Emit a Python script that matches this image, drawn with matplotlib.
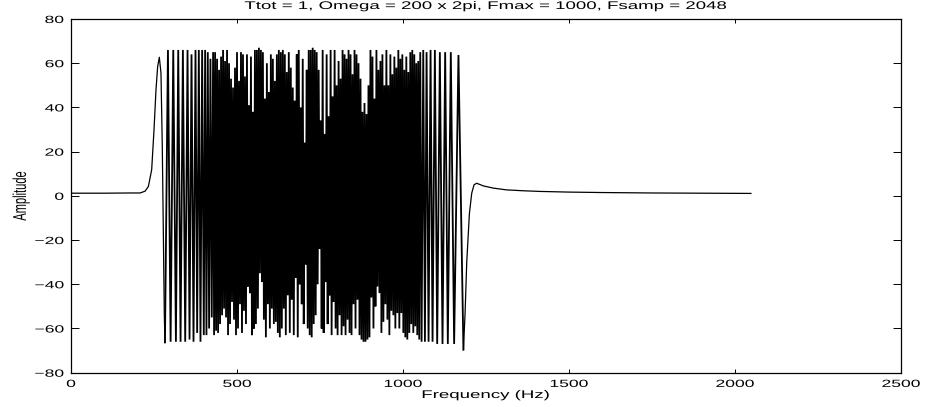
"""
Chirp spectrum: real part of the amplitude across frequency, drawn the way the
old MATLAB figure looks (ticks inside on all four sides, Helvetica-like text).
The source picture was stretched sideways, so text glyphs get widened too.
"""
import matplotlib; matplotlib.use("Agg"); import matplotlib.pyplot as plt
from matplotlib import patheffects
from matplotlib.transforms import Affine2D

plt.rcParams["font.family"] = ["Liberation Sans", "DejaVu Sans"]

TITLE = "Ttot = 1, Omega = 200 x 2pi, Fmax = 1000, Fsamp = 2048"
X_TICKS = [0, 500, 1000, 1500, 2000, 2500]
Y_TICKS = [-80, -60, -40, -20, 0, 20, 40, 60, 80]

# smooth lead-in: flat floor, first Fresnel lobe, first deep trough
lead_hz = [0, 100, 180, 208, 223, 233, 243, 250, 256, 261, 266, 271, 275, 278, 281, 283]
lead_amp = [1.2, 1.2, 1.3, 1.3, 2.1, 4.2, 11.8, 29.8, 48, 58.5, 62.7, 55.6, 22, -15, -53, -66.3]

# turning points of the oscillating band (peak / trough alternating)
osc_hz = [
    292, 300, 308, 316, 323, 330, 337, 344, 351, 357,
    363, 369, 375, 380, 385, 390, 395, 400, 404, 408,
    412, 416, 420, 424, 428,
    431, 434, 437, 440, 443, 446, 449, 452, 455, 458,
    461, 464, 467, 470, 473, 476, 479, 482, 485, 488,
    491, 494, 497, 500, 503, 506, 509, 512, 515, 518,
    521, 524, 527, 530, 533, 536, 539, 542, 545, 548,
    551, 554, 557, 560, 563, 566, 569, 572, 575, 578,
    581, 584, 587, 590, 593, 596, 599, 602, 605, 608,
    611, 614, 617, 620, 623, 626, 629, 632, 635, 638,
    641, 644, 647, 650, 653, 656, 659, 662, 665, 668,
    671, 674, 677, 680, 683, 686, 689, 692, 695, 698,
    701, 704, 707, 710, 713, 716, 719, 722, 725, 728,
    731, 734, 737, 740, 743, 746, 749, 752, 755, 758,
    761, 764, 767, 770, 773, 776, 779, 782, 785, 788,
    791, 794, 797, 800, 803, 806, 809, 812, 815, 818,
    821, 824, 827, 830, 833, 836, 839, 842, 845, 848,
    851, 854, 857, 860, 863, 866, 869, 872, 875, 878,
    881, 884, 887, 890, 893, 896, 899, 902, 905, 908,
    911, 914, 917, 920, 923, 926, 929, 932, 935, 938,
    941, 944, 947, 950, 953, 956, 959, 962, 965, 968,
    971, 974, 977, 980, 983, 986, 989, 992, 995, 998,
    1001, 1004, 1007, 1010, 1013, 1016, 1019, 1022, 1025, 1028,
    1031, 1034, 1037, 1040, 1043, 1046, 1049, 1052,
    1056, 1061, 1066, 1071, 1077, 1083, 1089, 1096, 1103, 1111,
    1119, 1127, 1135, 1144, 1154, 1167, 1182,
]
osc_amp = [
    66, -66, 66, -66, 66, -66, 66, -66, 66, -65,
    64, -66, 66, -62, 66, -66, 66, -63, 66, -63,
    65, -60, 62, -55, 65,
    -63, 65, -61, 62, -62, 57, -58, 63, -54, 66,
    -51, 61, -55, 66, -63, 60, -58, 53, -48, 49,
    -56, 58, -63, 65, -60, 52, -49, 65, -62, 64,
    -52, 54, -58, 64, -41, 41, -44, 63, -63, 38,
    -60, 66, -58, 66, -51, 67, -35, 66, -39, 65,
    -56, 44, -64, 60, -49, 47, -60, 64, -51, 62,
    -58, 52, -57, 64, -62, 66, -64, 65, -60, 66,
    -51, 64, -63, 56, -45, 65, -62, 58, -47, 49,
    -63, 43, -37, 64, -64, 66, -40, 40, -49, 62,
    -58, 24, -31, 57, -60, 66, -63, 66, -64, 67,
    -58, 66, -54, 65, -40, 57, -24, 34, -60, 66,
    -62, 28, -39, 64, -58, 36, -45, 66, -63, 45,
    -48, 66, -60, 50, -63, 61, -54, 53, -63, 66,
    -59, 64, -63, 62, -56, 66, -62, 64, -63, 55,
    -49, 66, -60, 64, -47, 60, -63, 53, -65, 38,
    -66, 42, -66, 37, -65, 50, -64, 66, -46, 63,
    -60, 44, -50, 66, -41, 57, -44, 61, -62, 64,
    -57, 50, -49, 66, -56, 50, -63, 64, -52, 55,
    -54, 63, -60, 58, -53, 66, -60, 62, -53, 64,
    -62, 57, -64, 63, -65, 56, -62, 65, -58, 66,
    -62, 64, -59, 60, -63, 61, -65, 65,
    -66, 66, -66, 65, -66, 66, -66, 66, -67, 65,
    -67, 65, -67, 65, -67, 63.7, -69.6,
]

# recovery after the last trough: small overshoot, then slow decay to the floor
tail_hz = [1187, 1192, 1200, 1207, 1214, 1222, 1242, 1272, 1312, 1362, 1413, 1500, 1600, 1750, 1900, 2048]
tail_amp = [-53, -30, -8, 1.2, 5, 5.7, 4.5, 3.5, 2.7, 2.3, 2.0, 1.7, 1.5, 1.3, 1.2, 1.1]

assert len(osc_hz) == len(osc_amp)

SX = 1.68  # sideways stretch of the source picture


class Widen(patheffects.AbstractPathEffect):
    """Widen text horizontally (display x) about its left / centre / right edge."""
    def __init__(self, sx=SX, anchor="center"):
        super().__init__()
        self.sx, self.anchor = sx, anchor

    def draw_path(self, renderer, gc, tpath, affine, rgbFace=None):
        ext = tpath.get_extents(affine)
        x0 = {"left": ext.x0, "right": ext.x1, "center": (ext.x0 + ext.x1) / 2}[self.anchor]
        widen = Affine2D().translate(-x0, 0).scale(self.sx, 1).translate(x0, 0)
        renderer.draw_path(gc, tpath, affine + widen, rgbFace)


W, H = 925, 407
fig = plt.figure(figsize=(W / 100, H / 100), dpi=100)
ax = fig.add_axes([71 / W, 1 - 372.7 / H, 830 / W, (372.7 - 19) / H])

# one series; the dense band gets a slightly heavier stroke so it fills in solid
# like the 1 Hz-sampled original, the smooth ends stay thin
ax.plot(lead_hz, lead_amp, color="black", lw=0.9)
ax.plot([lead_hz[-1]] + osc_hz, [lead_amp[-1]] + osc_amp, color="black", lw=1.3,
        solid_joinstyle="miter")
ax.plot([osc_hz[-1]] + tail_hz, [osc_amp[-1]] + tail_amp, color="black", lw=0.9)

ax.set_xlim(0, 2500); ax.set_ylim(-80, 80)
ax.set_xticks(X_TICKS); ax.set_yticks(Y_TICKS)
ax.tick_params(direction="in", top=True, right=True, width=0.7, labelsize=7.5, colors="black")
ax.tick_params(axis="x", length=3.1, pad=4.5)
ax.tick_params(axis="y", length=6.0, pad=5.2)
for s in ax.spines.values():
    s.set_linewidth(0.9)

ax.set_title(TITLE, fontsize=8, pad=7.2)
ax.set_xlabel("Frequency (Hz)", fontsize=8)
ax.set_ylabel("Amplitude", fontsize=8)
ax.xaxis.label.set_va("baseline"); ax.xaxis.set_label_coords(0.5, (372.7 - 398) / 353.7)
ax.yaxis.label.set_va("center"); ax.yaxis.set_label_coords((21 - 71) / 830, 0.5)

for t in [ax.title, ax.xaxis.label, ax.yaxis.label] + ax.get_xticklabels():
    t.set_path_effects([Widen(anchor="center")])
for t in ax.get_yticklabels():
    t.set_path_effects([Widen(anchor="right")])

fig.savefig("out.png", dpi=100)
